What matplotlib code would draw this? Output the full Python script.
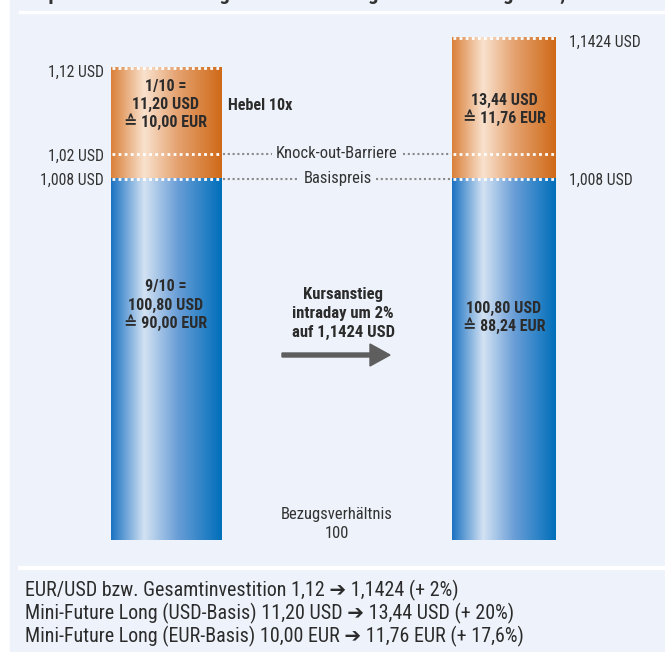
"""Mini-Future Long: Kursanstieg EUR/USD"""

import matplotlib
matplotlib.use("Agg")
import matplotlib.pyplot as plt
import numpy as np
from matplotlib.colors import LinearSegmentedColormap
from matplotlib.patches import Rectangle, FancyArrow

FONT = ['Roboto Condensed', 'DejaVu Sans']
plt.rcParams['font.family'] = FONT

# price levels (USD)
start_price = 1.12
end_price = 1.1424
knockout = 1.02
basis = 1.008

left_top_text = ["1/10 =", "11,20 USD", "\u2259 10,00 EUR"]
left_bottom_text = ["9/10 =", "100,80 USD", "\u2259 90,00 EUR"]
right_top_text = ["13,44 USD", "\u2259 11,76 EUR"]
right_bottom_text = ["100,80 USD", "\u2259 88,24 EUR"]
middle_text = ["Kursanstieg", "intraday um 2%", "auf 1,1424 USD"]
summary = [
    "EUR/USD bzw. Gesamtinvestition 1,12 \u2794 1,1424 (+ 2%)",
    "Mini-Future Long (USD-Basis) 11,20 USD \u2794 13,44 USD (+ 20%)",
    "Mini-Future Long (EUR-Basis) 10,00 EUR \u2794 11,76 EUR (+ 17,6%)",
]

# drawing scale of the infographic (not proportional)
price_knots = [basis, knockout, start_price, end_price]
pix_knots = [178, 153, 67, 37]


def ypos(p):
    return float(np.interp(p, price_knots, pix_knots))


bar_bottom = 540
bars = [(111, 222, start_price), (452, 556, end_price)]

orange = LinearSegmentedColormap.from_list(
    "or", [(0, "#da803a"), (0.3, "#f9e2ce"), (0.6, "#e5a270"), (1, "#cf6a18")])
blue = LinearSegmentedColormap.from_list(
    "bl", [(0, "#1a72c2"), (0.3, "#d3e2f3"), (0.6, "#6a9ed7"), (1, "#006fba")])

fig = plt.figure(figsize=(6.65, 6.52), dpi=100)
ax = fig.add_axes([0, 0, 1, 1])
ax.set_xlim(0, 665)
ax.set_ylim(652, 0)
ax.axis('off')

ax.add_patch(Rectangle((10, 0), 655, 652, color='#eef2fa', zorder=0))
ax.plot([20, 665], [12, 12], color='white', lw=2.5, zorder=1)
ax.plot([20, 665], [568, 568], color='white', lw=3, zorder=1)
ax.text(330, -6, "Beispiel: Wertentwicklung Mini-Future Long bei Kursanstieg auf 1,1424 USD",
        ha='center', va='center', fontsize=15, fontweight='bold', color='#333333')

grad = np.linspace(0, 1, 256).reshape(1, -1)
for x0, x1, top in bars:
    ax.imshow(grad, cmap=orange, extent=(x0, x1, ypos(basis), ypos(top)),
              aspect='auto', zorder=2)
    ax.imshow(grad, cmap=blue, extent=(x0, x1, bar_bottom, ypos(basis)),
              aspect='auto', zorder=2)
    for lv in (top, knockout, basis):
        ax.plot([x0 + 1, x1 - 1], [ypos(lv) + 1, ypos(lv) + 1], color='white',
                lw=2, dashes=(1, 1.2), zorder=3)

# connecting lines between the bars
dot = dict(color='#8a8a8a', lw=1.5, dashes=(1, 1.3), zorder=3)
ko_y = ypos(knockout) + 1
ax.plot([223, 272], [ko_y, ko_y], **dot)
ax.plot([403, 451], [ko_y, ko_y], **dot)
ax.text(337, ko_y, "Knock-out-Barriere", ha='center', va='center',
        fontsize=12, color='#333333')
bs_y = ypos(basis) + 1
ax.plot([223, 299], [bs_y, bs_y], **dot)
ax.plot([376, 451], [bs_y, bs_y], **dot)
ax.text(338, bs_y, "Basispreis", ha='center', va='center',
        fontsize=12, color='#333333')

lab = dict(fontsize=11.3, color='#333333', va='center')
ax.text(104, ypos(start_price) + 5, "1,12 USD", ha='right', **lab)
ax.text(104, ypos(knockout) + 3, "1,02 USD", ha='right', **lab)
ax.text(104, ypos(basis) + 2, "1,008 USD", ha='right', **lab)
ax.text(569, ypos(end_price) + 5, "1,1424 USD", ha='left', **lab)
ax.text(569, ypos(basis) + 2, "1,008 USD", ha='left', **lab)

bold = dict(fontweight='bold', color='#2b2b2b', ha='center',
            va='center', zorder=4)


def block(x, y0, lines, step=18, size=11.5):
    for i, s in enumerate(lines):
        ax.text(x, y0 + i * step, s, fontsize=size, **bold)


block(166, 86, left_top_text)
block(166, 287, left_bottom_text)
block(504, 100, right_top_text)
block(504, 308, right_bottom_text)
block(343, 295, middle_text, step=18.5, size=12)
ax.text(228, 106, "Hebel 10x", fontsize=11.5, fontweight='bold',
        color='#2b2b2b', ha='left', va='center')

ax.add_patch(FancyArrow(282, 355, 88, 0, width=4, head_width=22,
                        head_length=20, color='#5e5e5e',
                        length_includes_head=False, zorder=3))

ax.text(337, 514, "Bezugsverhältnis", ha='center', va='center',
        fontsize=12, color='#333333')
ax.text(337, 533, "100", ha='center', va='center', fontsize=12,
        color='#333333')

for i, s in enumerate(summary):
    ax.text(25, 590 + i * 23, s, ha='left', va='center', fontsize=14.4,
            color='#2b2b2b')

fig.savefig("out.png", dpi=100, facecolor='white')
